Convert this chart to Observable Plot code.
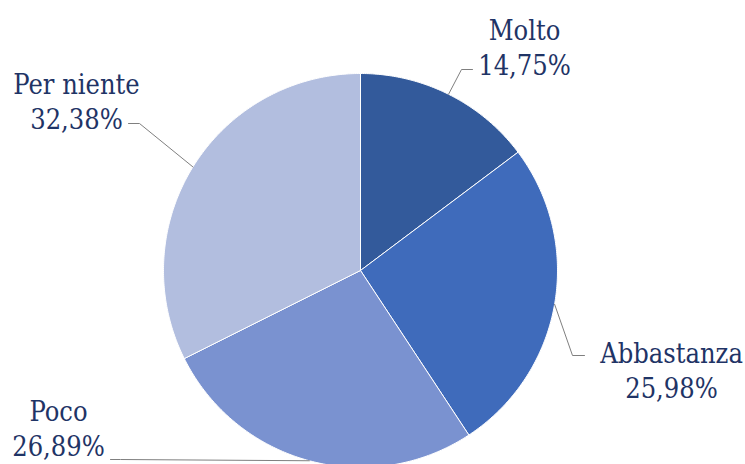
<!DOCTYPE html>
<html><head><meta charset="utf-8">
<script src="https://cdn.jsdelivr.net/npm/d3@7"></script>
<script src="https://cdn.jsdelivr.net/npm/@observablehq/plot@0.6"></script>
<style>html,body{margin:0;padding:0;background:#fff;overflow:hidden}
.pie-label text{font-stretch:condensed}</style>
</head><body><div id="chart"></div>
<script>
const categories = ["Molto", "Abbastanza", "Poco", "Per niente"];
const values = [14.75, 25.98, 26.89, 32.38];
const valueLabels = ["14,75%", "25,98%", "26,89%", "32,38%"];
const colors = ["#335A9B", "#3F6BBB", "#7A92D0", "#B2BEDF"];

// layout (pixels), not data
const W = 745, H = 464, CX = 360, CY = 270, R = 197;
const FS = 27;
// label layout: elbow point, leader end and first-line baseline of text (pixel space)
const labelLayout = {
  "Molto":      {elbow: [461, 69],  end: [472, 69],  text: [524, 34]  },
  "Abbastanza": {elbow: [572, 355], end: [584, 355], text: [671, 357] },
  "Poco":       {elbow: [120, 459], end: [110, 459], text: [58, 415]  },
  "Per niente": {elbow: [139, 123], end: [128, 123], text: [76, 88]   }
};

const total = d3.sum(values);
const slices = [];
const arcPts = [];
let acc = 0;
categories.forEach((c, i) => {
  const a0 = acc / total * 2 * Math.PI;
  acc += values[i];
  const a1 = acc / total * 2 * Math.PI;
  const n = Math.max(2, Math.ceil((a1 - a0) / 0.01));
  arcPts.push({cat: c, x: 0, y: 0});
  for (let k = 0; k <= n; k++) {
    const a = a0 + (a1 - a0) * k / n;
    arcPts.push({cat: c, x: Math.sin(a), y: Math.cos(a)});
  }
  arcPts.push({cat: c, x: 0, y: 0});
  slices.push({cat: c, mid: (a0 + a1) / 2, label: c + "\n" + valueLabels[i]});
});

const px = (x) => (x - CX) / R;
const py = (y) => (CY - y) / R;

const leaders = [];
slices.forEach(s => {
  const L = labelLayout[s.cat];
  leaders.push({cat: s.cat, x: Math.sin(s.mid), y: Math.cos(s.mid)});
  leaders.push({cat: s.cat, x: px(L.elbow[0]), y: py(L.elbow[1])});
  leaders.push({cat: s.cat, x: px(L.end[0]), y: py(L.end[1])});
});
const texts = slices.map(s => ({...s, x: px(labelLayout[s.cat].text[0]), y: py(labelLayout[s.cat].text[1])}));

const chart = Plot.plot({
  width: W, height: H,
  margin: 0,
  x: {domain: [px(0), px(W)], range: [0, W], axis: null},
  y: {domain: [py(H), py(0)], range: [H, 0], axis: null},
  color: {domain: categories, range: colors},
  style: {background: "#fff"},
  marks: [
    Plot.line(arcPts, {x: "x", y: "y", z: "cat", fill: "cat", stroke: "#fff", strokeWidth: 1, curve: "linear"}),
    Plot.line(leaders, {x: "x", y: "y", z: "cat", stroke: "#7f7f7f", strokeWidth: 1}),
    Plot.text(texts, {x: "x", y: "y", text: "label", fill: "#1F3466", fontSize: FS,
      fontFamily: "DejaVu Serif", lineHeight: 1.3, lineAnchor: "top", textAnchor: "middle",
      className: "pie-label", dy: -0.71 * FS})
  ]
});
document.getElementById("chart").appendChild(chart);
</script>
</body></html>
